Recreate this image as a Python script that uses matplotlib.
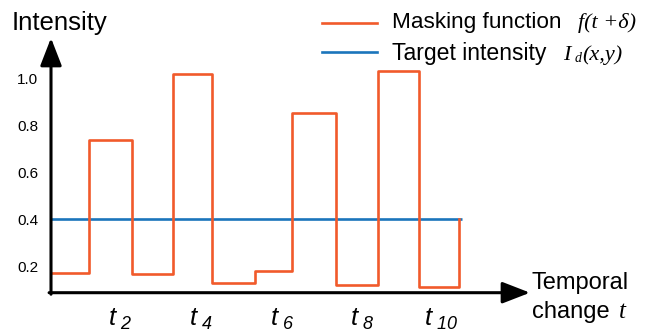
import matplotlib
matplotlib.use('Agg')
from matplotlib import pyplot as plt
from matplotlib.lines import Line2D

plt.rcParams['font.family'] = ['Liberation Sans', 'DejaVu Sans']
plt.rcParams['mathtext.fontset'] = 'custom'
plt.rcParams['mathtext.it'] = 'Liberation Sans:italic'
plt.rcParams['mathtext.rm'] = 'Liberation Sans:italic'

# step edges (time units) and masking levels
edges = [0, 0.92, 1.99, 2.98, 3.95, 5.0, 5.91, 6.99, 8.01, 9.02, 10.0]
mask_levels = [0.17, 0.736, 0.167, 1.017, 0.128, 0.181, 0.851, 0.121, 1.032, 0.113]
end_level = 0.4
target_level = 0.4
target_span = [0, 10.07]

ytick_vals = [0.2, 0.4, 0.6, 0.8, 1.0]
ytick_labels = ['0.2', '0.4', '0.6', '0.8', '1.0']
xtick_vals = [1.69, 3.66, 5.66, 7.62, 9.55]
xtick_labels = [r'$t_{\ %s}$' % k for k in ['2', '4', '6', '8', '10']]

orange = '#f15a2b'
blue = '#1b75bb'

W, H = 654, 331
fig = plt.figure(figsize=(W / 100, H / 100), dpi=100)
# axes box in pixels: left 51, right 530, bottom 292.7, top 38
ax = fig.add_axes([51 / W, (H - 292.7) / H, (530 - 51) / W, (292.7 - 38) / H])
ax.set_xlim(0, 11.73)
ax.set_ylim(0.0877, 1.1715)
for s in ax.spines.values():
    s.set_visible(False)

ax.plot(target_span, [target_level, target_level], color=blue, lw=1.9,
        solid_capstyle='butt', zorder=2)
ax.plot(edges, mask_levels + [end_level], drawstyle='steps-post', color=orange,
        lw=1.9, zorder=3)

ax.set_yticks(ytick_vals, ytick_labels, fontsize=11)
ax.set_xticks(xtick_vals, xtick_labels, fontsize=18.5)
ax.tick_params(axis='y', length=0, pad=9)
ax.tick_params(axis='x', length=0, pad=10)

arrow = dict(arrowstyle='-|>,head_length=0.85,head_width=0.33', lw=2.2, color='k',
             shrinkA=0, shrinkB=0, mutation_scale=20)
ax.annotate('', xy=(1, 0), xytext=(-0.004, 0), xycoords='axes fraction',
            arrowprops=arrow, annotation_clip=False)
ax.annotate('', xy=(0, 1), xytext=(0, -0.006), xycoords='axes fraction',
            arrowprops=arrow, annotation_clip=False)

fig.text(12 / W, 1 - 30 / H, 'Intensity', fontsize=18.5, va='baseline')
fig.text(531.7 / W, 1 - 289.3 / H, 'Temporal', fontsize=17, va='baseline')
fig.text(531.7 / W, 1 - 317.7 / H, 'change', fontsize=17, va='baseline')
fig.text(619 / W, 1 - 317.7 / H, 't', fontsize=18, va='baseline',
         family='Liberation Serif', style='italic')

# legend
fig.add_artist(Line2D([321.7 / W, 376.7 / W], [1 - 22.7 / H, 1 - 22.7 / H],
                      color=orange, lw=1.9))
fig.add_artist(Line2D([321.7 / W, 376.7 / W], [1 - 51.7 / H, 1 - 51.7 / H],
                      color=blue, lw=1.9))
fig.text(391.7 / W, 1 - 28.3 / H, 'Masking function', fontsize=16.2, va='baseline')
fig.text(578 / W, 1 - 28.3 / H, r'f(t +δ)', fontsize=16, va='baseline',
         family='Liberation Serif', style='italic')
fig.text(391.7 / W, 1 - 60 / H, 'Target intensity', fontsize=16.6, va='baseline')
fig.text(563 / W, 1 - 60 / H, 'I', fontsize=16, va='baseline',
         family='Liberation Serif', style='italic')
fig.text(575 / W, 1 - 62 / H, 'd', fontsize=10, va='baseline',
         family='Liberation Serif', style='italic')
fig.text(582 / W, 1 - 60 / H, '(x,y)', fontsize=16, va='baseline',
         family='Liberation Serif', style='italic')

fig.savefig('out.png', dpi=100)
